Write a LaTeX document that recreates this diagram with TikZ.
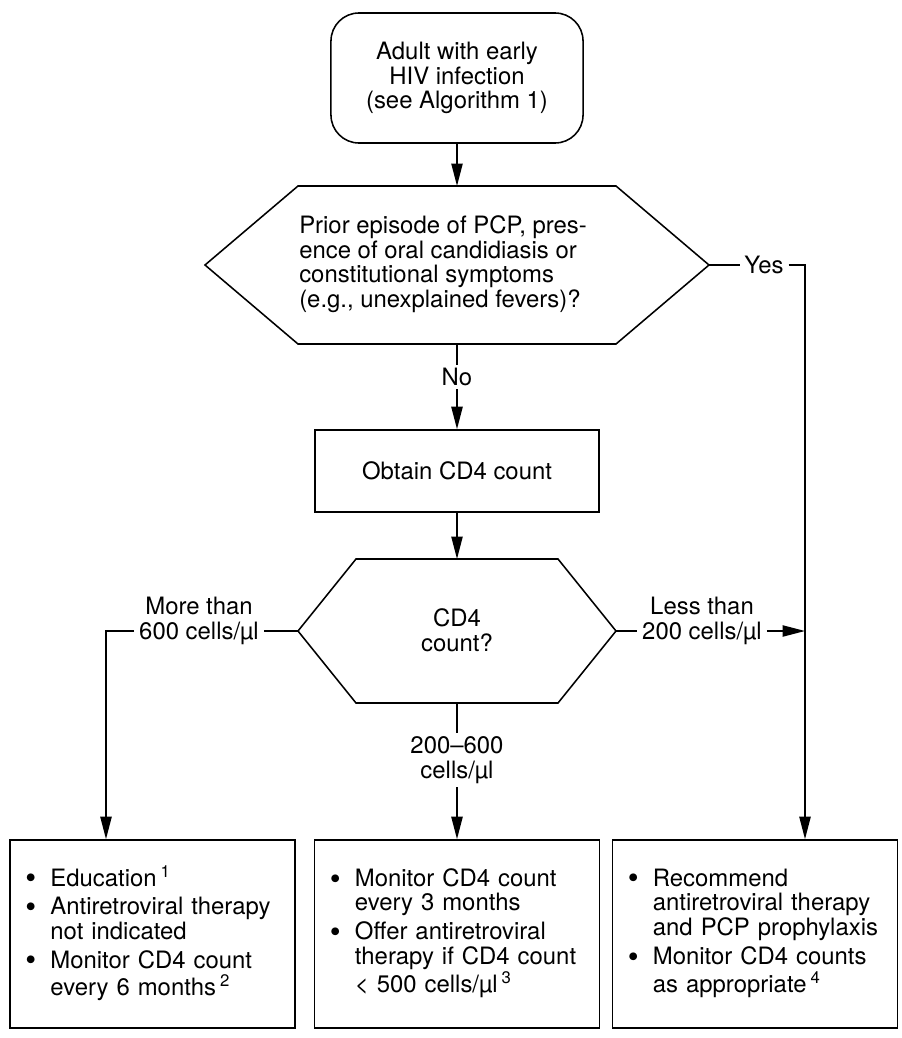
\documentclass[tikz,border=0pt]{standalone}
\usepackage{fontspec}
\usepackage{graphicx}
\setmainfont{TeX Gyre Heros}
\usetikzlibrary{arrows.meta}
\def\hexagon#1(#2,#3)(#4:#5:#6){\draw ({#2-#4},#3) -- ({#2-#4+#5},{#3-#6}) -- ({#2+#4-#5},{#3-#6}) -- ({#2+#4},#3) -- ({#2+#4-#5},{#3+#6}) -- ({#2-#4+#5},{#3+#6}) -- cycle;
	\coordinate (#1-w) at ({#2-#4},#3); \coordinate (#1-e) at ({#2+#4},#3);
	\coordinate (#1-n) at (#2,{#3-#6}); \coordinate (#1-s) at (#2,{#3+#6});}
\newcommand\blist[1]{\noindent\begin{tabular}{@{}l@{\hspace{10pt}}l@{}}#1\end{tabular}}
\newcommand\bdot{\raisebox{-1.8pt}{\scalebox{1.3}{\textbullet}}}

\begin{document}
\begin{tikzpicture}[x=0.025cm, y=-0.025cm, line width=1.1pt,
	font=\fontsize{17}{17.5}\selectfont,
	arr/.style={-{Triangle[length=16pt,width=8pt]}},
	lbl/.style={inner xsep=3pt, inner ysep=2pt, align=center},
	startbox/.style={draw, rounded corners=0.7cm, align=center, minimum width=6.3cm, minimum height=3.25cm},
	stepbox/.style={draw, minimum width=7.1cm, minimum height=2.05cm},
	endbox/.style={draw, minimum width=7.125cm, minimum height=4.7cm, inner xsep=11pt, text width=6.35cm, align=left, font=\fontsize{17}{16.5}\selectfont}]
	%%%%% START %%%%%
	\useasboundingbox (0,0) rectangle (901,1038);
	
	\node[startbox] (start) at (457,78) {Adult with early\\HIV infection\\(see Algorithm 1)};
	
	\hexagon{qa}(457,265)(252:93:79)
	\node[align=left] (qa) at (443,264) {Prior episode of PCP, pres-\\ence of oral candidiasis or\\constitutional symptoms\\(e.g., unexplained fevers)?};
	
	\node[stepbox] (obtain) at (457,471) {Obtain CD4 count};
	
	\hexagon{qb}(457,631)(159:58:72)
	\node[align=center] (qb) at (457,630) {CD4\\count?};
	
	\node[endbox] (b1) at (152.5,934) {\blist{%
		\bdot & Education\,\textsuperscript{1}\\[3pt]
		\bdot & Antiretroviral therapy\\
		& not indicated\\[3pt]
		\bdot & Monitor CD4 count\\
		& every 6 months\,\textsuperscript{2}}};
	\node[endbox] (b2) at (457,934) {\blist{%
		\bdot & Monitor CD4 count\\
		& every 3 months\\[3pt]
		\bdot & Offer antiretroviral\\
		& therapy if CD4 count\\
		& < 500 cells/µl\,\textsuperscript{3}}};
	\node[endbox] (b3) at (755,934) {\blist{%
		\bdot & Recommend\\
		& antiretroviral therapy\\
		& and PCP prophylaxis\\[3pt]
		\bdot & Monitor CD4 counts\\
		& as appropriate\,\textsuperscript{4}}};
	
	% branch labels
	\node[lbl] (yes) at (764,265) {Yes};
	\node[lbl] (no) at (457,377) {No};
	\node[lbl] (more) at (199,621) {More than\\600 cells/µl};
	\node[lbl] (less) at (702,621) {Less than\\200 cells/µl};
	\node[lbl] (mid) at (457,760) {200--600\\cells/µl};
	\coordinate (lt) at (106,631);
	\coordinate (rt) at (805,265);
	
	% connectors
	\draw[arr] (start) -- (qa-n);
	\draw (qa-s) -- (no);
	\draw[arr] (no) -- (obtain);
	\draw[arr] (obtain) -- (qb-n);
	\draw (qa-e) -- (yes);
	\draw[arr] (yes) -- (rt) -- (rt |- b3.north);
	\draw (qb-w) -- (qb-w -| more.east);
	\draw[arr] (more.west |- qb-w) -- (lt) -- (lt |- b1.north);
	\draw (qb-e) -- (qb-e -| less.west);
	\draw[arr] (less.east |- qb-e) -- (qb-e -| rt);
	\draw (qb-s) -- (mid);
	\draw[arr] (mid) -- (b2);
	%%%%% END %%%%%
\end{tikzpicture}
\end{document}
